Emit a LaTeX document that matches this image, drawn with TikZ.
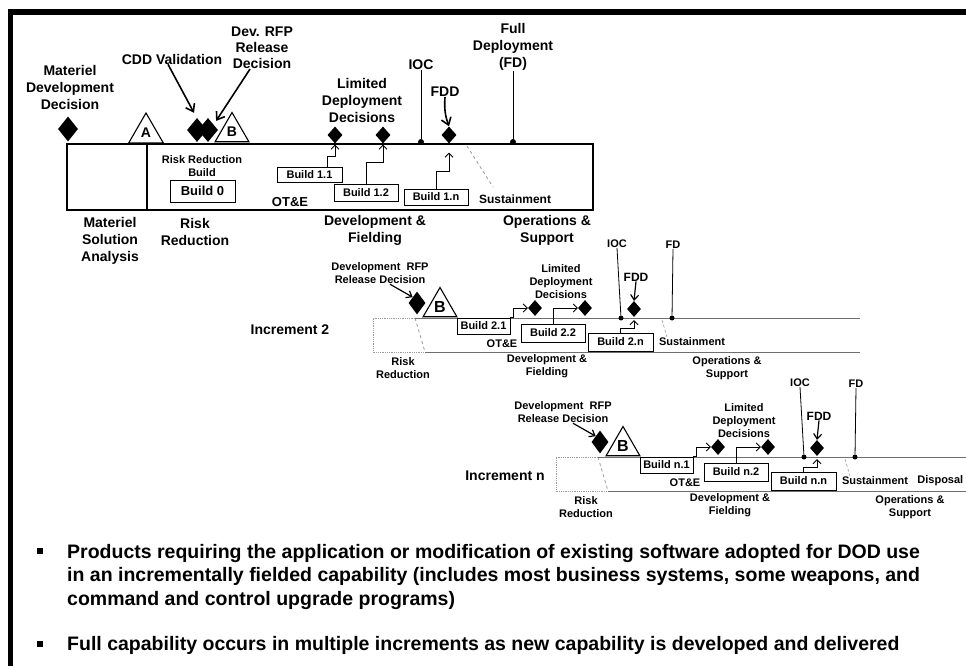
\documentclass[tikz,border=0pt]{standalone}
\usepackage{fontspec}
\setmainfont{Liberation Sans}
\definecolor{bandGray}{HTML}{6E6E6E}
\definecolor{dashGray}{HTML}{9C9C9C}
\usepackage{tikz}
\usetikzlibrary{calc, positioning, shapes.geometric, arrows.meta}

\tikzset{
  lbl/.style={font=\bfseries\fontsize{14}{17}\selectfont, align=center, inner sep=0pt},
  sml/.style={font=\bfseries\fontsize{11}{13}\selectfont, align=center, inner sep=0pt},
  buildbox/.style={draw, fill=white, line width=0.9pt, inner sep=0pt, font=\bfseries\fontsize{11}{13}\selectfont},
  dmd/.style 2 args={diamond, fill=black, inner sep=0pt, minimum width=#1, minimum height=#2},
  tri/.style={regular polygon, regular polygon sides=3, draw, line width=1.1pt, inner sep=0pt, minimum size=#1},
  mdot/.style={circle, fill=black, inner sep=0pt, minimum size=5pt},
  steparrow/.style={line width=0.8pt, -{Straight Barb[length=4pt, width=8pt]}},
  midarrow/.style={line width=1.2pt, -{Straight Barb[length=5pt, width=8pt]}},
  bigarrow/.style={line width=1.6pt, -{Straight Barb[length=7pt, width=10pt]}},
  bulletsq/.style={rectangle, fill=black, inner sep=0pt, minimum size=5.5pt},
  bullettxt/.style={font=\bfseries\fontsize{19.5}{23.5}\selectfont, align=left, inner sep=0pt}
}

\begin{document}
\begin{tikzpicture}[x=1pt, y=-1pt]
  \useasboundingbox (0,0) rectangle (966,666);
  \fill (8,9) rectangle (966,15);
  \fill (8,9) rectangle (13,666);

  % increment 1
  \draw[line width=1.6pt] (67,144) rectangle (593,210);
  \draw[line width=1.2pt] (147,144) -- (147,210);
  \node[dmd={20pt}{25pt}] (mdd) at (68,129) {};
  \node[lbl] (mddlbl) at (70,87) {Materiel\\Development\\Decision};
  \node[tri=40pt, font=\bfseries\fontsize{14}{14}\selectfont] (msa) at (146,133) {A};
  \node[dmd={20pt}{24pt}] (cdd) at (197,130) {};
  \node[dmd={20pt}{24pt}] (rfp) at (208,130) {};
  \node[tri=39pt, font=\bfseries\fontsize{14}{14}\selectfont] (msb) at (232,132) {B};
  \node[lbl] (cddlbl) at (172,59) {CDD Validation};
  \node[lbl, font=\bfseries\fontsize{14}{16}\selectfont] (rfplbl) at (262,48) {Dev. RFP\\Release\\Decision};
  \draw[bigarrow] ([xshift=-4pt]cddlbl.south) -- ([shift={(-3pt,5pt)}]cdd.north);
  \draw[bigarrow] ([xshift=-12pt]rfplbl.south) -- ([shift={(3pt,3pt)}]rfp.north east);

  \node[sml] (rrblbl) at (202,166.5) {Risk Reduction\\Build};
  \node[buildbox, minimum width=65pt, minimum height=22pt, font=\bfseries\fontsize{13}{15}\selectfont] (b0) at (202.5,191) {Build 0};
  \node[buildbox, minimum width=65pt, minimum height=15pt] (b11) at (309.5,174.5) {Build 1.1};
  \node[buildbox, minimum width=64pt, minimum height=17pt] (b12) at (366,192.5) {Build 1.2};
  \node[buildbox, minimum width=64pt, minimum height=16pt] (b1n) at (436,197) {Build 1.n};

  \node[dmd={15pt}{17pt}] (ldd11) at (335,135) {};
  \node[dmd={15pt}{17pt}] (ldd12) at (383,135) {};
  \node[dmd={15pt}{17pt}] (fdd1) at (449,135) {};
  \node[lbl] (ldd1lbl) at (362,100) {Limited\\Deployment\\Decisions};
  \draw[steparrow] ([xshift=-15pt]b11.north east) -- ++(0,-10) -| ([yshift=-1pt]ldd11.south);
  \draw[steparrow] (b12.north) -- ++(0,-21) -| ([yshift=-1pt]ldd12.south);
  \draw[steparrow] (b1n.north) -- ++(0,-17) -| ([yshift=-9pt]fdd1.south);

  \node[lbl] (ioc1lbl) at (421,65) {IOC};
  \node[mdot, minimum size=6pt] (ioc1) at (421,142) {};
  \draw[line width=0.8pt] (ioc1lbl.south) -- (ioc1);
  \node[lbl] (fdd1lbl) at (445,92) {FDD};
  \draw[bigarrow] (fdd1lbl.south) to[bend right=12] (fdd1.north);
  \node[lbl] (fd1lbl) at (513,47) {Full\\Deployment\\(FD)};
  \node[mdot, minimum size=6pt] (fd1) at (513,142) {};
  \draw[line width=0.8pt] (fd1lbl.south) -- (fd1);

  \draw[dashGray, dashed, line width=0.8pt] (467,146) -- (493,187);
  \node[sml, font=\bfseries\fontsize{12}{14}\selectfont] (sust1) at (515,199) {Sustainment};
  \node[lbl, font=\bfseries\fontsize{13}{15}\selectfont] (ote1) at (290,202) {OT\&E};
  \node[lbl] (msa1lbl) at (110,240.5) {Materiel\\Solution\\Analysis};
  \node[lbl] (rr1lbl) at (195,232) {Risk\\Reduction};
  \node[lbl] (df1lbl) at (375,230) {Development \&\\Fielding};
  \node[lbl] (os1lbl) at (547,230) {Operations \&\\Support};

  % increments 2 and n
  \foreach \inc/\dx/\dy/\bandend in {2/0/0/860, n/183/139/783} {
    \begin{scope}[shift={(\dx,\dy)}]
      \draw[dashGray, densely dotted, line width=0.8pt] (415,318) -- (373,318) -- (373,352) -- (425,352);
      \draw[dashGray, dashed, line width=0.8pt] (415,318) -- (425,352);
      \draw[bandGray, line width=0.9pt] (415,318) -- (\bandend,318) (425,352) -- (\bandend,352);
      \draw[dashGray, densely dashed, line width=0.6pt] (662,320) -- (667,337);

      \node[dmd={17pt}{23pt}] (rfp\inc) at (417,303) {};
      \node[sml] (rfplbl\inc) at (380,273.5) {Development\ \ RFP\\Release Decision};
      \draw[midarrow] ([xshift=10pt]rfplbl\inc.south) -- (rfp\inc.north west);
      \node[tri=39pt, font=\bfseries\fontsize{16}{16}\selectfont] (ms\inc) at (440,307) {B};

      \node[buildbox, minimum width=53pt, minimum height=16pt] (b\inc1) at (483.5,326) {Build \inc.1};
      \node[buildbox, minimum width=64pt, minimum height=18pt] (b\inc2) at (553,333) {Build \inc.2};
      \node[buildbox, minimum width=65pt, minimum height=18pt] (b\inc n) at (620.5,342) {Build \inc.n};

      \node[dmd={14pt}{16pt}] (ldd\inc1) at (535,308) {};
      \node[dmd={14pt}{16pt}] (ldd\inc2) at (585,308) {};
      \node[dmd={14pt}{16pt}] (fdd\inc) at (634,309) {};
      \node[sml] (lddlbl\inc) at (561,282) {Limited\\Deployment\\Decisions};
      \draw[steparrow] (b\inc1.north east) -- ++(3,0) |- (ldd\inc1.west);
      \draw[steparrow] (b\inc2.north) |- (ldd\inc2.west);
      \draw[steparrow] (b\inc n.north) -- ++(0,-4) -| ([yshift=-3pt]fdd\inc.south);

      \node[sml] (ioclbl\inc) at (617,244) {IOC};
      \node[mdot] (ioc\inc) at (621,318) {};
      \draw[line width=0.8pt] (ioclbl\inc.south) -- (ioc\inc);
      \node[sml] (fdlbl\inc) at (673,245) {FD};
      \node[mdot] (fd\inc) at (672,318) {};
      \draw[line width=0.8pt] (fdlbl\inc.south) -- (fd\inc);
      \node[sml, font=\bfseries\fontsize{12}{14}\selectfont] (fddlbl\inc) at (636,277) {FDD};
      \draw[midarrow] (fddlbl\inc.south) -- (fdd\inc.north);

      \node[sml] (sust\inc) at (692,342) {Sustainment};
      \node[sml] (ote\inc) at (502,344) {OT\&E};
      \node[sml] (rrlbl\inc) at (403,368.5) {Risk\\Reduction};
      \node[sml] (dflbl\inc) at (547,366.5) {Development \&\\Fielding};
      \node[sml] (oslbl\inc) at (727,368.5) {Operations \&\\Support};
    \end{scope}
  }
  \node[sml, right=9pt of sustn] (disp) {Disposal};
  \node[lbl] (inc2lbl) at (290,330) {Increment 2};
  \node[lbl] (incnlbl) at (505,476) {Increment n};

  \node[bulletsq] (blt1) at (40,551) {};
  \node[bullettxt, anchor=north west] (txt1) at (67,544) {Products requiring the application or modification of existing software adopted for DOD use\\in an incrementally fielded capability (includes most business systems, some weapons, and\\command and control upgrade programs)};
  \node[bulletsq] (blt2) at (40,644) {};
  \node[bullettxt, anchor=west] (txt2) at (67,645) {Full capability occurs in multiple increments as new capability is developed and delivered};
\end{tikzpicture}
\end{document}
